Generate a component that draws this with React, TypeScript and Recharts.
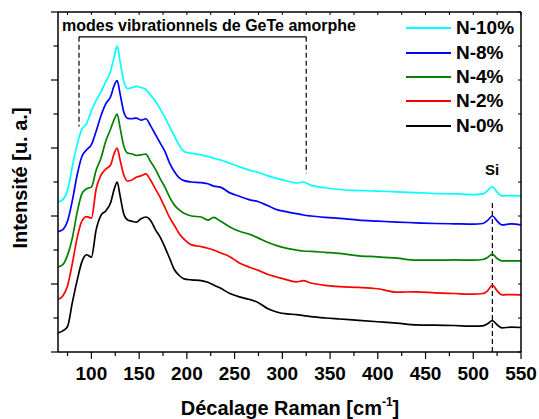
import {
  LineChart,
  Line,
  XAxis,
  YAxis,
  Legend,
  ReferenceLine,
} from 'recharts';

// Raman shift (cm-1) sampled along the spectra
const WAVENUMBER = [
  65, 70, 75, 80, 85, 90, 95, 100, 105, 110, 115, 120, 124, 127, 130, 134, 138, 142, 147, 152,
  157, 162, 167, 172, 177, 182, 187, 192, 197, 205, 215, 222, 228, 235, 245, 255, 265, 275, 285, 295,
  305, 315, 322, 330, 345, 360, 380, 400, 420, 440, 460, 480, 500, 510, 515, 520, 525, 530, 540, 550,
];

const N0 = [
  0.56, 0.62, 0.75, 1.45, 2.1, 2.65, 2.86, 2.79, 3.6, 4.02, 4.15, 4.38, 4.8, 5.0, 4.6, 4.05, 3.88, 3.85, 3.82, 3.92,
  3.97, 3.87, 3.6, 3.38, 3.08, 2.75, 2.42, 2.25, 2.15, 2.12, 2.1, 2.05, 1.97, 1.88, 1.72, 1.62, 1.55, 1.45, 1.27, 1.17,
  1.12, 1.1, 1.07, 1.04, 1.0, 0.97, 0.93, 0.89, 0.85, 0.8, 0.79, 0.78, 0.76, 0.77, 0.83, 0.92, 0.8, 0.71, 0.73, 0.72,
];

const N2 = [
  1.55, 1.65, 1.95, 2.6, 3.35, 3.85, 3.98, 3.94, 4.8, 5.2, 5.38, 5.5, 5.85, 6.0, 5.65, 5.2, 5.03, 5.05, 5.14, 5.18,
  5.24, 5.05, 4.8, 4.55, 4.25, 3.95, 3.72, 3.48, 3.32, 3.15, 3.1, 3.05, 3.0, 2.92, 2.8, 2.62, 2.5, 2.4, 2.28, 2.2,
  2.12, 2.06, 2.1, 2.03, 1.96, 1.92, 1.9, 1.86, 1.76, 1.77, 1.74, 1.72, 1.7, 1.72, 1.8, 1.97, 1.8, 1.68, 1.69, 1.68,
];

const N4 = [
  2.5, 2.57, 2.85, 3.35, 4.1, 4.65, 4.8, 4.85, 5.35, 5.7, 6.2, 6.55, 6.85, 7.0, 6.6, 6.05, 5.85, 5.83, 5.78, 5.8,
  5.82, 5.6, 5.38, 5.1, 4.85, 4.55, 4.32, 4.18, 4.08, 4.0, 3.97, 3.88, 3.96, 3.85, 3.68, 3.55, 3.47, 3.35, 3.22, 3.12,
  3.05, 3.0, 2.97, 2.96, 2.93, 2.9, 2.83, 2.8, 2.76, 2.7, 2.7, 2.71, 2.7, 2.72, 2.78, 2.88, 2.75, 2.68, 2.68, 2.68,
];

const N8 = [
  3.54, 3.6, 3.85, 4.45, 5.2, 5.75, 5.95, 6.1, 6.5, 6.95, 7.3, 7.5, 7.85, 7.98, 7.6, 7.05, 6.87, 6.86, 6.88, 6.82,
  6.86, 6.65, 6.4, 6.15, 5.9, 5.55, 5.3, 5.12, 5.04, 5.0, 4.98, 4.95, 4.88, 4.85, 4.68, 4.58, 4.48, 4.42, 4.3, 4.18,
  4.12, 4.07, 4.03, 4.0, 3.96, 3.93, 3.88, 3.85, 3.82, 3.8, 3.78, 3.77, 3.76, 3.78, 3.87, 4.0, 3.85, 3.74, 3.77, 3.74,
];

const N10 = [
  4.41, 4.48, 4.75, 5.45, 6.1, 6.55, 6.72, 7.1, 7.4, 7.65, 7.95, 8.25, 8.7, 9.0, 8.55, 7.95, 7.75, 7.77, 7.81, 7.78,
  7.72, 7.55, 7.38, 7.15, 6.9, 6.62, 6.35, 6.08, 5.9, 5.84, 5.8, 5.75, 5.7, 5.65, 5.55, 5.45, 5.35, 5.28, 5.18, 5.1,
  5.03, 4.97, 5.0, 4.9, 4.83, 4.78, 4.75, 4.73, 4.71, 4.69, 4.66, 4.65, 4.63, 4.65, 4.75, 4.86, 4.7, 4.59, 4.6, 4.59,
];

const X_TICKS = [75, 100, 125, 150, 175, 200, 225, 250, 275, 300, 325, 350, 375, 400, 425, 450, 475, 500, 525, 550];
const Y_TICKS = [0, 1, 2, 3, 4, 5, 6, 7, 8, 9, 10];

// bracket over the GeTe amorphous modes, and the Si reference line
const MODES_RANGE = [87, 325];
const MODES_TOP = 9.27;
const MODES_LEFT_END = 6.63;
const MODES_RIGHT_END = 5.26;
const SI_SHIFT = 520;
const SI_TOP = 4.38;

const SERIES = [
  { key: 'n10', name: 'N-10%', color: '#00ffff', values: N10 },
  { key: 'n8', name: 'N-8%', color: '#0000ff', values: N8 },
  { key: 'n4', name: 'N-4%', color: '#008000', values: N4 },
  { key: 'n2', name: 'N-2%', color: '#ff0000', values: N2 },
  { key: 'n0', name: 'N-0%', color: '#000000', values: N0 },
];

const data = WAVENUMBER.map((x, i) => {
  const row: Record<string, number> = { x };
  SERIES.forEach((s) => {
    row[s.key] = s.values[i];
  });
  return row;
});

const FONT = '"Liberation Sans", Arial, sans-serif';
const AXIS = { stroke: '#000', strokeWidth: 1.5 };

const BottomTick = ({ x, y, payload }: any) => {
  const major = payload.value % 50 === 0;
  return (
    <g>
      <line x1={x} x2={x} y1={y} y2={y + (major ? 7 : 4)} stroke="#000" strokeWidth={1.2} />
      {major && (
        <text x={x} y={y + 28} textAnchor="middle" fontFamily={FONT} fontWeight="bold" fontSize={19} fill="#000">
          {payload.value}
        </text>
      )}
    </g>
  );
};

const TopTick = ({ x, y }: any) => (
  <line x1={x} x2={x} y1={y} y2={y + 3} stroke="#000" strokeWidth={1} />
);

const LeftTick = ({ x, y, payload }: any) => {
  const major = payload.value % 2 === 0;
  return <line x1={x - (major ? 7 : 4.5)} x2={x} y1={y} y2={y} stroke="#000" strokeWidth={1.2} />;
};

const RightTick = ({ x, y }: any) => (
  <line x1={x - 3} x2={x} y1={y} y2={y} stroke="#000" strokeWidth={1} />
);

// keep the legend in the plotting order (N-10% on top)
const LegendBox = ({ payload }: any) => {
  const items = SERIES.map((s) => (payload || []).find((p: any) => p.dataKey === s.key) || { value: s.name, color: s.color });
  return (
    <div style={{ fontFamily: FONT, fontWeight: 'bold', fontSize: 19 }}>
      {items.map((p: any) => (
        <div key={p.value} style={{ display: 'flex', alignItems: 'center', height: 24.4 }}>
          <svg width={47} height={6} style={{ marginRight: 4 }}>
            <line x1={1} x2={46} y1={3} y2={3} stroke={p.color} strokeWidth={1.8} />
          </svg>
          <span style={{ color: '#000', lineHeight: '20px' }}>{p.value}</span>
        </div>
      ))}
    </div>
  );
};

export default function App() {
  return (
    <div style={{ position: 'absolute', left: 0, top: 0, width: 539, height: 419, background: '#fff' }}>
      <LineChart width={539} height={419} data={data} margin={{ top: 2, right: 8, bottom: 37, left: 38 }}>
        <XAxis
          xAxisId="b"
          dataKey="x"
          type="number"
          domain={[65, 550]}
          ticks={X_TICKS}
          interval={0}
          height={30}
          tickSize={0}
          tickMargin={0}
          tickLine={false}
          axisLine={AXIS}
          tick={BottomTick}
          allowDataOverflow
        />
        <XAxis
          xAxisId="t"
          orientation="top"
          dataKey="x"
          type="number"
          domain={[65, 550]}
          ticks={X_TICKS}
          interval={0}
          height={10}
          tickSize={0}
          tickMargin={0}
          tickLine={false}
          axisLine={AXIS}
          tick={TopTick}
          allowDataOverflow
        />
        <YAxis
          yAxisId="l"
          type="number"
          domain={[0, 10]}
          ticks={Y_TICKS}
          interval={0}
          width={20}
          tickSize={0}
          tickMargin={0}
          tickLine={false}
          axisLine={AXIS}
          tick={LeftTick}
          allowDataOverflow
        />
        <YAxis
          yAxisId="r"
          orientation="right"
          type="number"
          domain={[0, 10]}
          ticks={Y_TICKS}
          interval={0}
          width={10}
          tickSize={0}
          tickMargin={0}
          tickLine={false}
          axisLine={AXIS}
          tick={RightTick}
          allowDataOverflow
        />
        <Legend
          layout="vertical"
          align="center"
          verticalAlign="middle"
          content={<LegendBox />}
          wrapperStyle={{ position: 'absolute', left: 405, top: 16, width: 130 }}
        />
        <ReferenceLine
          xAxisId="b"
          yAxisId="l"
          segment={[{ x: MODES_RANGE[0], y: MODES_TOP }, { x: MODES_RANGE[1], y: MODES_TOP }]}
          stroke="#000"
          strokeWidth={1.2}
        />
        <ReferenceLine
          xAxisId="b"
          yAxisId="l"
          segment={[{ x: MODES_RANGE[0], y: MODES_TOP }, { x: MODES_RANGE[0], y: MODES_LEFT_END }]}
          stroke="#000"
          strokeWidth={1.2}
          strokeDasharray="5 3"
        />
        <ReferenceLine
          xAxisId="b"
          yAxisId="l"
          segment={[{ x: MODES_RANGE[1], y: MODES_TOP }, { x: MODES_RANGE[1], y: MODES_RIGHT_END }]}
          stroke="#000"
          strokeWidth={1.2}
          strokeDasharray="5 3"
        />
        <ReferenceLine
          xAxisId="b"
          yAxisId="l"
          segment={[{ x: SI_SHIFT, y: SI_TOP }, { x: SI_SHIFT, y: 0 }]}
          stroke="#000"
          strokeWidth={1.2}
          strokeDasharray="5 3"
        />
        {SERIES.map((s) => (
          <Line
            key={s.key}
            xAxisId="b"
            yAxisId="l"
            dataKey={s.key}
            name={s.name}
            type="monotone"
            stroke={s.color}
            strokeWidth={1.7}
            dot={false}
            isAnimationActive={false}
          />
        ))}
      </LineChart>
      <svg
        width={539}
        height={419}
        style={{ position: 'absolute', left: 0, top: 0, pointerEvents: 'none' }}
        fontFamily={FONT}
        fontWeight="bold"
        fill="#000"
      >
        <text x={62} y={31} fontSize={16}>modes vibrationnels de GeTe amorphe</text>
        <text x={492} y={175} fontSize={15} textAnchor="middle">Si</text>
        <text x={290} y={415} fontSize={20} textAnchor="middle">
          Décalage Raman [cm<tspan fontSize={12} dy={-9}>-1</tspan><tspan dy={9}>]</tspan>
        </text>
        <text transform="translate(27,178) rotate(-90)" fontSize={20} textAnchor="middle">
          Intensité [u. a.]
        </text>
      </svg>
    </div>
  );
}
